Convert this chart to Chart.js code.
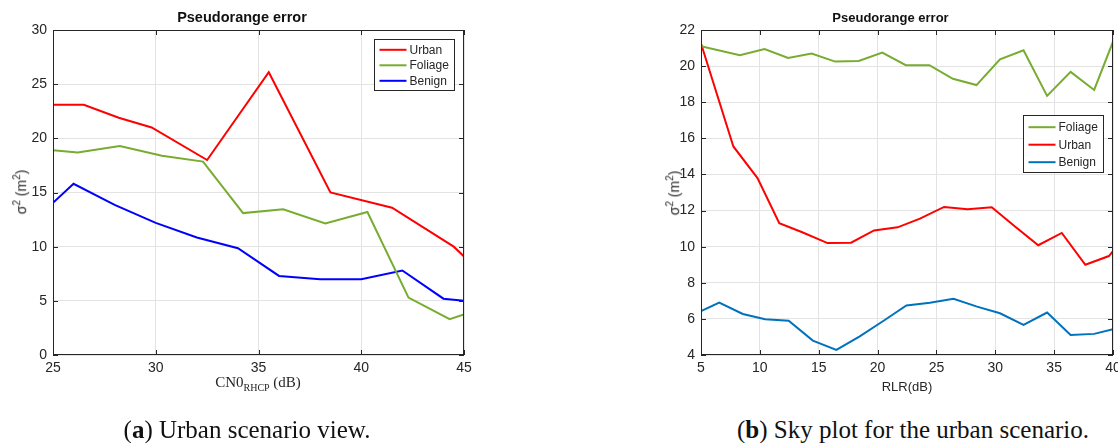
<!DOCTYPE html>
<html>
<head>
<meta charset="utf-8">
<script src="https://cdn.jsdelivr.net/npm/chart.js@4.4.1/dist/chart.umd.min.js"></script>
<style>
  html, body { margin: 0; padding: 0; background: #fff; overflow: hidden; }
  body { width: 1118px; height: 443px; position: relative; }
  .box { position: absolute; top: 0; height: 400px; }
  .lbl { position: absolute; color: #262626; white-space: nowrap; transform: translate(-50%, -50%); }
  .ylab { font: 14px "Liberation Sans", Arial, sans-serif; transform: translate(-50%, -50%) rotate(-90deg); }
  .ylab sup { font-size: 10px; }
  .cn0 { font: 15px "Liberation Serif", serif; }
  .cn0 sub { font-size: 10px; }
  .rlr { font: 13px "Liberation Sans", Arial, sans-serif; }
  .cap { font: 25px "Liberation Serif", serif; color: #111; }
</style>
</head>
<body>
<div class="box" style="left:0;width:480px"><canvas id="left"></canvas></div>
<div class="box" style="left:560px;width:580px"><canvas id="right"></canvas></div>

<div class="lbl ylab" style="left:20px;top:192px">&sigma;<sup>2</sup> (m<sup>2</sup>)</div>
<div class="lbl ylab" style="left:673px;top:193px">&sigma;<sup>2</sup> (m<sup>2</sup>)</div>
<div class="lbl cn0" style="left:258px;top:383px">CN0<sub>RHCP</sub> (dB)</div>
<div class="lbl rlr" style="left:907px;top:386px">RLR(dB)</div>
<div class="lbl cap" style="left:247px;top:430px">(<b>a</b>) Urban scenario view.</div>
<div class="lbl cap" style="left:913px;top:430px">(<b>b</b>) Sky plot for the urban scenario.</div>

<script>
// left panel: error vs CN0
const cn0Urban = [25, 26.5, 28.2, 29.8, 32.5, 35.5, 38.5, 41.5, 44.5, 45];
const urbanLeft = [23.1, 23.1, 21.9, 21.0, 18.0, 26.1, 15.0, 13.6, 10.0, 9.1];
const cn0Foliage = [25, 26.2, 28.25, 30.3, 32.3, 34.25, 36.2, 38.25, 40.3, 42.3, 44.3, 45];
const foliageLeft = [18.9, 18.7, 19.3, 18.4, 17.85, 13.1, 13.45, 12.15, 13.2, 5.3, 3.3, 3.75];
const cn0Benign = [25, 26, 28, 30, 32, 34, 36, 38, 40, 42, 44, 45];
const benignLeft = [14.05, 15.8, 13.85, 12.2, 10.85, 9.85, 7.3, 7.0, 7.0, 7.8, 5.2, 5.0];

// right panel: error vs RLR
const rlrFoliage = [5, 8.3, 10.4, 12.4, 14.4, 16.4, 18.4, 20.4, 22.4, 24.4, 26.4, 28.4, 30.4, 32.4, 34.4, 36.4, 38.4, 40];
const foliageRight = [21.1, 20.6, 20.95, 20.45, 20.7, 20.25, 20.28, 20.75, 20.05, 20.05, 19.3, 18.95, 20.38, 20.88, 18.35, 19.68, 18.68, 21.35];
const rlrUrban = [5, 7.75, 9.8, 11.65, 13.6, 15.75, 17.75, 19.7, 21.7, 23.6, 25.65, 27.65, 29.7, 31.7, 33.65, 35.65, 37.65, 39.65, 40];
const urbanRight = [21.25, 15.55, 13.8, 11.3, 10.8, 10.2, 10.22, 10.9, 11.07, 11.55, 12.2, 12.07, 12.18, 11.1, 10.08, 10.76, 9.0, 9.48, 9.75];
const rlrBenign = [5, 6.55, 8.55, 10.45, 12.45, 14.5, 16.5, 18.45, 20.45, 22.45, 24.45, 26.45, 28.45, 30.4, 32.4, 34.4, 36.4, 38.4, 40];
const benignRight = [6.43, 6.9, 6.27, 5.98, 5.9, 4.8, 4.28, 5.02, 5.87, 6.74, 6.9, 7.11, 6.68, 6.31, 5.67, 6.35, 5.11, 5.17, 5.43];

const pts = (xs, ys) => xs.map((x, i) => ({ x: x, y: ys[i] }));
const AXIS = '#262626';
const GRID = '#e3e3e3';
const SANS = '"Liberation Sans", Arial, sans-serif';

// matlab-ish axes box, inward ticks and a boxed legend
const matlabBox = {
  id: 'matlabBox',
  afterDraw(chart, args, o) {
    const { ctx, chartArea: a, scales } = chart;
    ctx.save();
    ctx.strokeStyle = AXIS;
    ctx.lineWidth = 1;
    ctx.strokeRect(a.left + 0.5, a.top + 0.5, a.width - 1, a.height - 1);
    ctx.beginPath();
    scales.x.ticks.forEach(t => {
      const px = Math.round(scales.x.getPixelForValue(t.value)) + 0.5;
      ctx.moveTo(px, a.bottom); ctx.lineTo(px, a.bottom - 5);
      ctx.moveTo(px, a.top); ctx.lineTo(px, a.top + 5);
    });
    scales.y.ticks.forEach(t => {
      const py = Math.round(scales.y.getPixelForValue(t.value)) + 0.5;
      ctx.moveTo(a.left, py); ctx.lineTo(a.left + 5, py);
      ctx.moveTo(a.right, py); ctx.lineTo(a.right - 5, py);
    });
    ctx.stroke();

    const x0 = Math.round(a.right - o.right - o.width) + 0.5;
    const y0 = Math.round(a.top + o.top) + 0.5;
    ctx.fillStyle = '#fff';
    ctx.fillRect(x0, y0, o.width, o.height);
    ctx.strokeStyle = AXIS;
    ctx.strokeRect(x0, y0, o.width, o.height);
    ctx.font = '12px ' + SANS;
    ctx.textBaseline = 'middle';
    chart.data.datasets.forEach((ds, i) => {
      const y = y0 + o.first + i * o.gap;
      ctx.strokeStyle = ds.borderColor;
      ctx.lineWidth = 2;
      ctx.beginPath();
      ctx.moveTo(x0 + 5, y); ctx.lineTo(x0 + 32, y);
      ctx.stroke();
      ctx.fillStyle = AXIS;
      ctx.fillText(ds.label, x0 + 35, y + 0.5);
    });
    ctx.restore();
  }
};

function makeChart(id, datasets, xr, yr, opts) {
  return new Chart(document.getElementById(id), {
    type: 'line',
    data: { datasets: datasets },
    plugins: [matlabBox],
    options: {
      responsive: true,
      maintainAspectRatio: false,
      animation: false,
      layout: { padding: opts.padding },
      elements: { point: { radius: 0 }, line: { borderWidth: 2, tension: 0 } },
      scales: {
        x: {
          type: 'linear', min: xr[0], max: xr[1],
          ticks: { stepSize: xr[2], padding: 5, color: AXIS, maxRotation: 0,
                   font: { size: 14, family: SANS } },
          grid: { color: GRID, drawTicks: false },
          border: { display: false },
          afterFit: s => { s.height = 25; }
        },
        y: {
          min: yr[0], max: yr[1],
          ticks: { stepSize: yr[2], padding: 6, color: AXIS,
                   font: { size: 14, family: SANS } },
          grid: { color: GRID, drawTicks: false },
          border: { display: false },
          afterFit: s => { s.width = 33; }
        }
      },
      plugins: {
        legend: { display: false },
        tooltip: { enabled: false },
        title: {
          display: true, text: 'Pseudorange error', color: '#111',
          font: { size: opts.titleSize, weight: 'bold', family: SANS, lineHeight: 1.2 },
          padding: { top: 18 - opts.titleSize * 0.6, bottom: 12 - opts.titleSize * 0.6 }
        },
        matlabBox: opts.legend
      }
    }
  });
}

makeChart('left', [
  { label: 'Urban', data: pts(cn0Urban, urbanLeft), borderColor: '#ff0000' },
  { label: 'Foliage', data: pts(cn0Foliage, foliageLeft), borderColor: '#77ac30' },
  { label: 'Benign', data: pts(cn0Benign, benignLeft), borderColor: '#0000ff' }
], [25, 45, 5], [0, 30, 5], {
  padding: { left: 20, right: 16, top: 0, bottom: 20 },
  titleSize: 14.5,
  legend: { right: 10, top: 9, width: 80, height: 51, first: 10.3, gap: 15.5 }
});

makeChart('right', [
  { label: 'Foliage', data: pts(rlrFoliage, foliageRight), borderColor: '#77ac30' },
  { label: 'Urban', data: pts(rlrUrban, urbanRight), borderColor: '#ff0000' },
  { label: 'Benign', data: pts(rlrBenign, benignRight), borderColor: '#0072bd' }
], [5, 40, 5], [4, 22, 2], {
  padding: { left: 108, right: 27, top: 0, bottom: 20 },
  titleSize: 13,
  legend: { right: 10, top: 85, width: 80, height: 57, first: 11.7, gap: 17.5 }
});
</script>
</body>
</html>
